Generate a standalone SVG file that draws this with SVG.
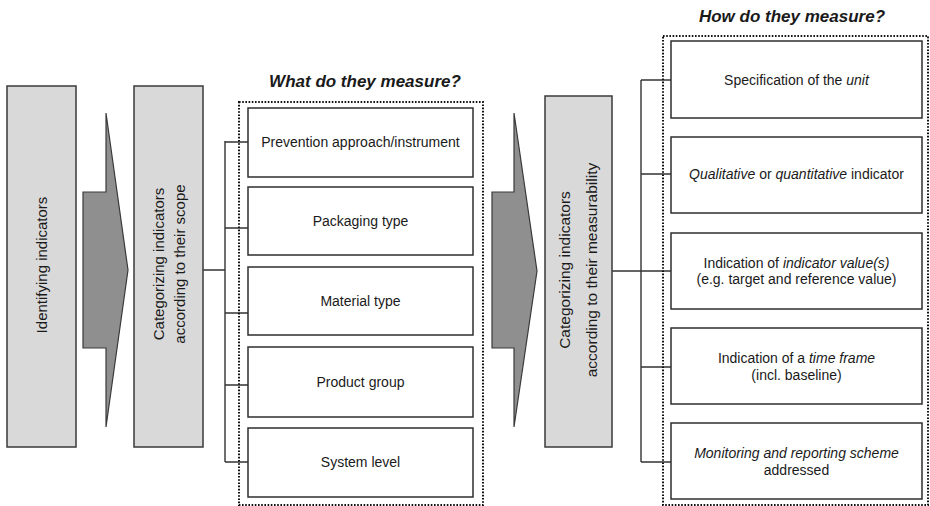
<svg xmlns="http://www.w3.org/2000/svg" width="930" height="506" viewBox="0 0 930 506">
<style>
.gbox{fill:#d9d9d9;stroke:#3a3a3a;stroke-width:1.5}
.wbox{fill:#ffffff;stroke:#2e2e2e;stroke-width:1.5}
.arrow{fill:#8f8f8f;stroke:#3a3a3a;stroke-width:1.2}
.dots{fill:none;stroke:#111;stroke-width:2;stroke-dasharray:1.6 1.6}
.conn{fill:none;stroke:#333;stroke-width:1.4}
text{font-family:"Liberation Sans",Arial,sans-serif;fill:#1a1a1a}
.t{font-size:14px;text-anchor:middle}
.v{font-size:15px;text-anchor:middle}
.title{font-size:17px;font-weight:bold;font-style:italic;text-anchor:middle}
</style>
<rect width="930" height="506" fill="#ffffff"/>

<g id="connectors">
<path class="conn" d="M203,270 H225 M225,141 V462 M225,142 H248 M225,228 H248 M225,313 H248 M225,385 H248 M225,462 H248"/>
<path class="conn" d="M612,271 H642 M641,80 V462 M641,80 H671 M641,174 H671 M641,271 H671 M641,367 H671 M641,462 H671"/>
</g>

<g id="identifying">
<rect class="gbox" x="7" y="86" width="69" height="361"/>
<text class="v" transform="translate(47,265) rotate(-90)">Identifying indicators</text>
</g>

<g id="arrow1">
<polygon class="arrow" points="83,192 106,192 106,113 128,270 106,427 106,348 83,348"/>
</g>

<g id="scope">
<rect class="gbox" x="134" y="86" width="69" height="361"/>
<text class="v" transform="translate(164,264) rotate(-90)">Categorizing indicators</text>
<text class="v" transform="translate(185,264) rotate(-90)">according to their scope</text>
</g>

<g id="what-group">
<text class="title" x="365" y="87">What do they measure?</text>
<rect class="dots" x="239" y="102" width="244" height="403"/>
</g>
<g id="prevention">
<rect class="wbox" x="248" y="108" width="225" height="69"/>
<text class="t" x="360.5" y="147">Prevention approach/instrument</text>
</g>
<g id="packaging">
<rect class="wbox" x="248" y="187" width="225" height="68"/>
<text class="t" x="360.5" y="226">Packaging type</text>
</g>
<g id="material">
<rect class="wbox" x="248" y="267" width="225" height="68"/>
<text class="t" x="360.5" y="306">Material type</text>
</g>
<g id="product">
<rect class="wbox" x="248" y="347" width="225" height="70"/>
<text class="t" x="360.5" y="387">Product group</text>
</g>
<g id="system">
<rect class="wbox" x="248" y="428" width="225" height="69"/>
<text class="t" x="360.5" y="467">System level</text>
</g>

<g id="arrow2">
<polygon class="arrow" points="492,192 514,192 514,113 537,271 514,427 514,348 492,348"/>
</g>

<g id="measurability">
<rect class="gbox" x="545" y="96" width="67" height="351"/>
<text class="v" style="font-size:15.5px" transform="translate(570,270) rotate(-90)">Categorizing indicators</text>
<text class="v" style="font-size:15.5px" transform="translate(597,270) rotate(-90)">according to their measurability</text>
</g>

<g id="how-group">
<text class="title" x="792" y="22">How do they measure?</text>
<rect class="dots" x="663" y="36" width="265" height="469"/>
</g>
<g id="unit">
<rect class="wbox" x="671" y="41" width="251" height="77"/>
<text class="t" x="796.5" y="85">Specification of the <tspan font-style="italic">unit</tspan></text>
</g>
<g id="qualitative">
<rect class="wbox" x="671" y="137" width="251" height="76"/>
<text class="t" x="796.5" y="179"><tspan font-style="italic">Qualitative</tspan> or <tspan font-style="italic">quantitative</tspan> indicator</text>
</g>
<g id="values">
<rect class="wbox" x="671" y="233" width="251" height="76"/>
<text class="t" x="796.5" y="268">Indication of <tspan font-style="italic">indicator value(s)</tspan></text>
<text class="t" x="796.5" y="284">(e.g. target and reference value)</text>
</g>
<g id="timeframe">
<rect class="wbox" x="671" y="328" width="251" height="76"/>
<text class="t" x="796.5" y="363">Indication of a <tspan font-style="italic">time frame</tspan></text>
<text class="t" x="796.5" y="380">(incl. baseline)</text>
</g>
<g id="monitoring">
<rect class="wbox" x="671" y="423" width="251" height="76"/>
<text class="t" x="796.5" y="458"><tspan font-style="italic">Monitoring and reporting scheme</tspan></text>
<text class="t" x="796.5" y="475">addressed</text>
</g>
</svg>
